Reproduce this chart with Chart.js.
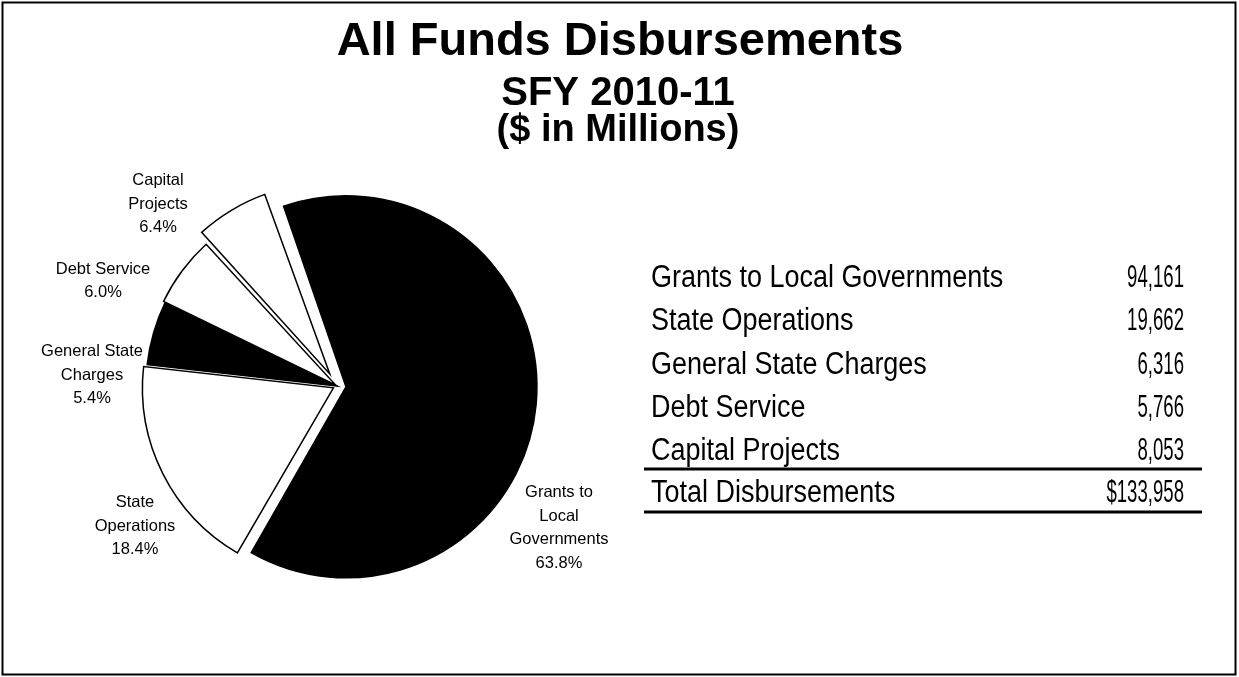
<!DOCTYPE html>
<html>
<head>
<meta charset="utf-8">
<title>All Funds Disbursements</title>
<script src="https://cdn.jsdelivr.net/npm/chart.js@4.4.1/dist/chart.umd.min.js"></script>
<style>
  html, body { margin: 0; padding: 0; background: #fff; }
</style>
</head>
<body>
<canvas id="myChart" width="1239" height="677"></canvas>
<script>
// spending categories, share of the pie (%) and amounts ($ millions)
const categories = [
  "Grants to Local Governments",
  "State Operations",
  "General State Charges",
  "Debt Service",
  "Capital Projects",
];
const sharePct = [63.8, 18.4, 5.4, 6.0, 6.4];
const amounts = [94161, 19662, 6316, 5766, 8053];
const totalLabel = "Total Disbursements";

// wrapped names used beside the slices
const sliceNames = [
  ["Grants to", "Local", "Governments"],
  ["State", "Operations"],
  ["General State", "Charges"],
  ["Debt Service"],
  ["Capital", "Projects"],
];

const titleLines = ["All Funds Disbursements", "SFY 2010-11", "($ in Millions)"];

const PIE_RADIUS = 191;
const sliceFill = ["#000000", "#ffffff", "#000000", "#ffffff", "#ffffff"];
const sliceOffset = [36, 16, 0, 8, 56];
// where each slice's text block sits, relative to the pie centre
const labelSpot = [
  { dx: 222, dy: 142 },
  { dx: -202, dy: 140 },
  { dx: -245, dy: -11 },
  { dx: -234, dy: -105 },
  { dx: -179, dy: -182 },
];

const ARIAL = '"Liberation Sans", Arial, sans-serif';
const TABLE_FONT = '31px "Liberation Sans", Arial, sans-serif';
// the table face is a narrow one: squeeze words a little, figures more
const WORD_SQUEEZE = 0.87;
const FIGURE_SQUEEZE = 0.6;

// keep every slice the same radius once it has been pulled out
const evenRadius = {
  id: "evenRadius",
  afterDatasetsUpdate(chart) {
    chart.getDatasetMeta(0).data.forEach((arc) => {
      const shift = (arc.options.offset || 0) / 4;
      const fix = 1 - Math.sin(Math.min(Math.PI, arc.circumference));
      arc.outerRadius = PIE_RADIUS - shift * fix;
    });
  },
};

function squeezedText(ctx, text, x, y, align, sx) {
  ctx.save();
  ctx.translate(x, y);
  ctx.scale(sx, 1);
  ctx.textAlign = align;
  ctx.fillText(text, 0, 0);
  ctx.restore();
}

const decorations = {
  id: "decorations",
  afterDraw(chart) {
    const ctx = chart.ctx;
    ctx.save();

    // frame
    ctx.strokeStyle = "#000";
    ctx.lineWidth = 2;
    ctx.strokeRect(2.5, 2.5, 1233, 672);

    // headings
    ctx.fillStyle = "#000";
    ctx.textAlign = "center";
    ctx.textBaseline = "alphabetic";
    ctx.font = "bold 47px " + ARIAL;
    ctx.fillText(titleLines[0], 620, 55);
    ctx.font = "bold 40px " + ARIAL;
    ctx.fillText(titleLines[1], 618, 105);
    ctx.font = "bold 38px " + ARIAL;
    ctx.fillText(titleLines[2], 618, 141);

    // slice labels
    const meta = chart.getDatasetMeta(0);
    const cx = meta.data[0].x;
    const cy = meta.data[0].y;
    ctx.font = "16.5px " + ARIAL;
    ctx.textBaseline = "middle";
    const lineH = 23.5;
    sliceNames.forEach((name, i) => {
      const lines = name.concat([sharePct[i].toFixed(1) + "%"]);
      const x = cx + labelSpot[i].dx;
      const y0 = cy + labelSpot[i].dy - ((lines.length - 1) * lineH) / 2;
      lines.forEach((t, k) => ctx.fillText(t, x, y0 + k * lineH));
    });

    // amounts table
    const left = 651, right = 1184;
    const rowY = [287, 330, 373.5, 416.5, 460];
    ctx.font = TABLE_FONT;
    ctx.textBaseline = "alphabetic";
    categories.forEach((c, i) => {
      squeezedText(ctx, c, left, rowY[i], "left", WORD_SQUEEZE);
      squeezedText(ctx, amounts[i].toLocaleString("en-US"), right, rowY[i], "right", FIGURE_SQUEEZE);
    });
    const total = amounts.reduce((a, b) => a + b, 0);
    squeezedText(ctx, totalLabel, left, 502, "left", WORD_SQUEEZE);
    squeezedText(ctx, "$" + total.toLocaleString("en-US"), right, 502, "right", FIGURE_SQUEEZE);

    ctx.lineWidth = 3;
    ctx.beginPath();
    ctx.moveTo(644, 469);
    ctx.lineTo(1202, 469);
    ctx.moveTo(644, 512);
    ctx.lineTo(1202, 512);
    ctx.stroke();

    ctx.restore();
  },
};

const config = {
  type: "pie",
  data: {
    labels: categories,
    datasets: [
      {
        data: sharePct,
        backgroundColor: sliceFill,
        borderColor: "#000000",
        borderWidth: 1.5,
        borderJoinStyle: "miter",
        offset: sliceOffset,
      },
    ],
  },
  options: {
    responsive: false,
    animation: false,
    events: [],
    devicePixelRatio: 1,
    rotation: -19.5,
    radius: PIE_RADIUS,
    layout: {
      padding: { left: 130, right: 695, top: 180, bottom: 85 },
    },
    plugins: {
      legend: { display: false },
      title: { display: false },
      tooltip: { enabled: false },
    },
  },
  plugins: [evenRadius, decorations],
};

// render init block
const myChart = new Chart(document.getElementById("myChart"), config);
</script>
</body>
</html>
